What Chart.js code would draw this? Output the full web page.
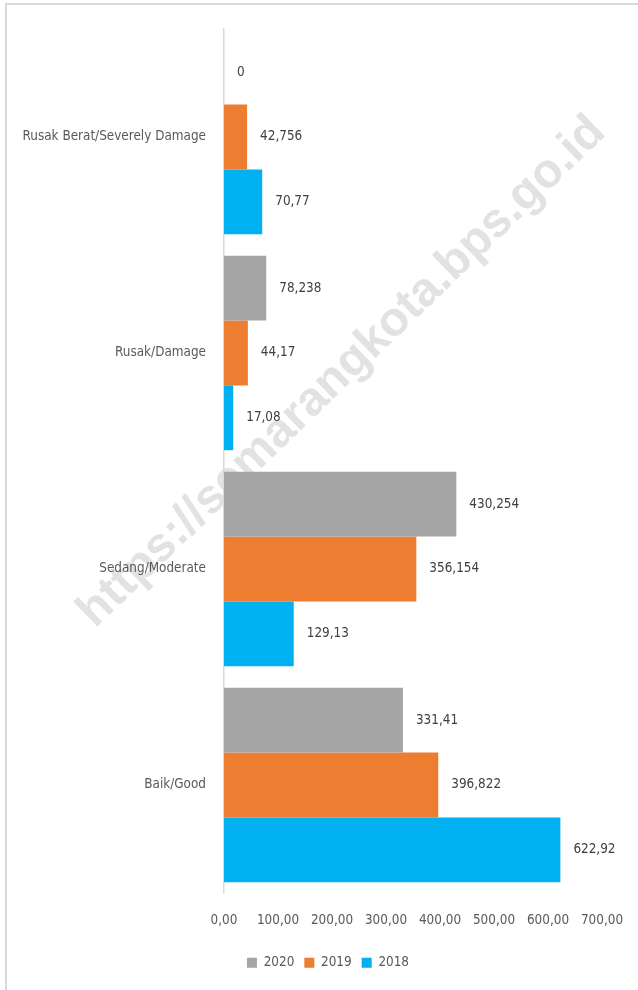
<!DOCTYPE html>
<html>
<head>
<meta charset="utf-8">
<style>
  html, body { margin: 0; padding: 0; background: #fff; }
  #wrap { position: relative; width: 638px; height: 990px; overflow: hidden; }
  #frame { position: absolute; left: 5px; top: 3px; width: 700px; height: 1100px;
           border-top: 2px solid #d9d9d9; border-left: 2px solid #d9d9d9; }
  #myChart { position: absolute; left: 0; top: 0; }
</style>
</head>
<body>
<div id="wrap">
  <div id="frame"></div>
  <canvas id="myChart" width="638" height="990"></canvas>
</div>
<script src="https://cdn.jsdelivr.net/npm/chart.js@4/dist/chart.umd.min.js"></script>
<script>
var categories = [
  'Rusak Berat/Severely Damage',
  'Rusak/Damage',
  'Sedang/Moderate',
  'Baik/Good'
];
var years = ['2020', '2019', '2018'];
var values2020 = [0, 78.238, 430.254, 331.41];
var values2019 = [42.756, 44.17, 356.154, 396.822];
var values2018 = [70.77, 17.08, 129.13, 622.92];

// pick a narrow face if one is installed, then size the text so the
// longest category label is as wide as in the original (~184px)
var probe = document.createElement('canvas').getContext('2d');
function widthIn(fam, txt) { probe.font = '16px ' + fam; return probe.measureText(txt).width; }
var FONT = '"Liberation Sans", Arial, sans-serif';
['"Liberation Sans Narrow"', '"Arial Narrow"', '"DejaVu Sans Condensed"', '"Roboto Condensed"'].some(function(f) {
  if (widthIn(f + ', monospace', 'Rusak Berat') !== widthIn('monospace', 'Rusak Berat')) {
    FONT = f + ', ' + FONT;
    return true;
  }
  return false;
});
var SIZE = Math.round(16 * 184 / widthIn(FONT, categories[0]) * 10) / 10;

// watermark, drawn first so axis, labels and bars sit on top of it
var watermark = {
  id: 'watermark',
  beforeDraw: function(chart) {
    var c = chart.ctx;
    c.save();
    c.translate(342, 372);
    c.rotate(-44 * Math.PI / 180);
    c.font = 'bold 48px "Liberation Sans", Arial, sans-serif';
    c.fillStyle = 'rgb(226, 226, 226)';
    c.textAlign = 'center';
    c.textBaseline = 'middle';
    c.fillText('https://semarangkota.bps.go.id', 0, 0);
    c.restore();
  }
};

var valueLabels = {
  id: 'valueLabels',
  afterDatasetsDraw: function(chart) {
    var c = chart.ctx;
    c.save();
    c.font = SIZE + 'px ' + FONT;
    c.fillStyle = '#404040';
    c.textAlign = 'left';
    c.textBaseline = 'middle';
    chart.data.datasets.forEach(function(ds, i) {
      chart.getDatasetMeta(i).data.forEach(function(bar, j) {
        c.fillText(String(ds.data[j]).replace('.', ','), bar.x + 13, bar.y);
      });
    });
    c.restore();
  }
};

// the original legend sits a little right of the canvas centre
var legendShift = {
  id: 'legendShift',
  afterLayout: function(chart) {
    var lg = chart.legend;
    lg.left += 27;
    lg.right += 27;
    lg.top -= 3;
    lg.bottom -= 3;
  }
};

var ctx = document.getElementById('myChart').getContext('2d');
var myChart = new Chart(ctx, {
  type: 'bar',
  data: {
    labels: categories,
    datasets: [
      { label: years[0], data: values2020, backgroundColor: '#a5a5a5' },
      { label: years[1], data: values2019, backgroundColor: '#ed7d31' },
      { label: years[2], data: values2018, backgroundColor: '#00b0f0' }
    ]
  },
  options: {
    indexAxis: 'y',
    responsive: false,
    animation: false,
    devicePixelRatio: 1,
    categoryPercentage: 0.9,
    barPercentage: 1.0,
    layout: { padding: { top: 29, right: 36, bottom: Math.max(0, 21 - SIZE), left: 0 } },
    scales: {
      x: {
        min: 0,
        max: 700,
        grid: { display: false, drawTicks: false },
        border: { display: false },
        ticks: {
          stepSize: 100,
          padding: 28 - 0.6 * SIZE,
          maxRotation: 0,
          minRotation: 0,
          autoSkip: false,
          color: '#595959',
          font: { family: FONT, size: SIZE },
          callback: function(v) { return v.toFixed(2).replace('.', ','); }
        },
        afterFit: function(scale) { scale.paddingLeft = 0; scale.paddingRight = 0; }
      },
      y: {
        grid: { display: false, drawTicks: false },
        border: { display: true, color: '#d9d9d9', width: 1.5 },
        ticks: {
          padding: 18,
          color: '#595959',
          font: { family: FONT, size: SIZE }
        },
        afterFit: function(scale) { scale.width = 224; }
      }
    },
    plugins: {
      legend: {
        position: 'bottom',
        labels: {
          boxWidth: 10,
          boxHeight: 10,
          padding: 10,
          color: '#595959',
          font: { family: FONT, size: SIZE }
        }
      },
      tooltip: { enabled: false }
    }
  },
  plugins: [watermark, valueLabels, legendShift]
});
</script>
</body>
</html>
